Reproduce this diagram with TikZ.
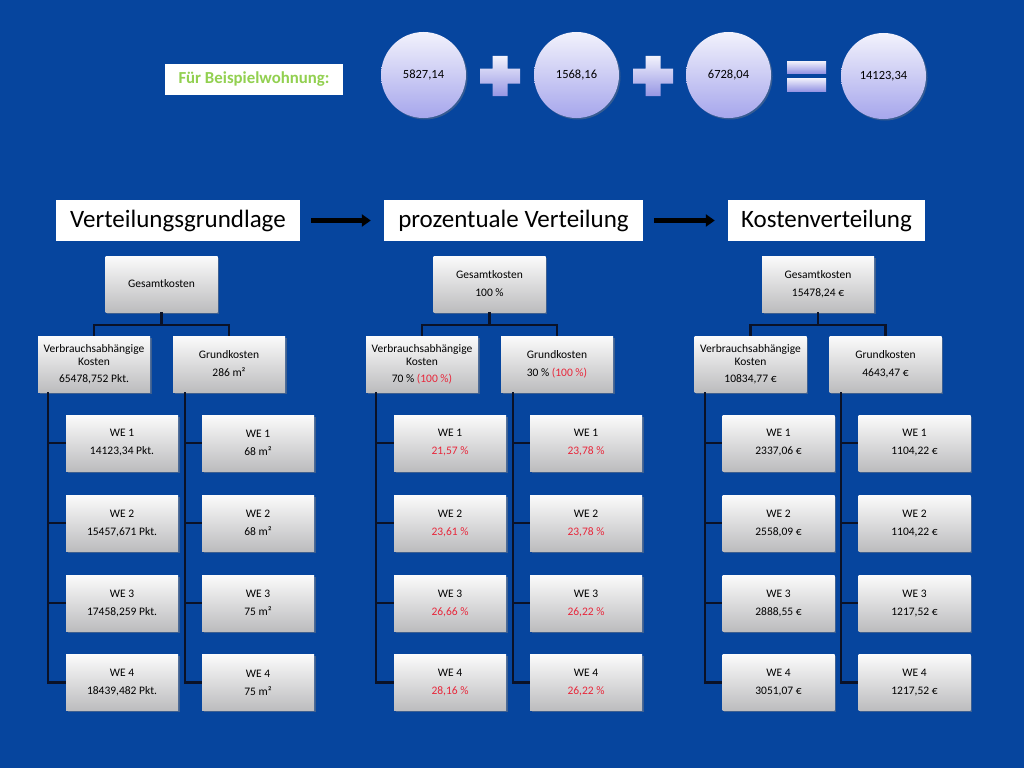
\documentclass[tikz,border=0pt]{standalone}
\usepackage{fontspec}
\setmainfont{Carlito}
\usetikzlibrary{shadows,arrows.meta,shapes.geometric}
\definecolor{bg}{RGB}{6,69,158}
\definecolor{lnk}{RGB}{10,18,40}
\definecolor{redt}{RGB}{232,38,58}
\definecolor{grn}{RGB}{146,208,80}
\definecolor{lavtop}{RGB}{242,242,252}
\definecolor{lavbot}{RGB}{166,166,236}
\definecolor{plusbot}{RGB}{150,150,228}
\definecolor{boxtop}{RGB}{251,251,251}
\definecolor{boxbot}{RGB}{188,188,190}
\begin{document}
\begin{tikzpicture}[x=1pt,y=-1pt,
  orgbox/.style={rectangle, minimum width=112pt, minimum height=56pt, inner sep=1pt,
    top color=boxtop, bottom color=boxbot, align=center,
    font=\fontsize{11.5}{13}\selectfont, text=black,
    drop shadow={shadow xshift=1.5pt, shadow yshift=-1.5pt, opacity=0.45}},
  hdr/.style={rectangle, fill=white, minimum height=41pt, inner sep=0pt,
    font=\fontsize{25}{28}\selectfont, text=black},
  circ/.style={ellipse, minimum width=85pt, minimum height=86pt, inner sep=0pt,
    top color=lavtop, bottom color=lavbot,
    font=\fontsize{12.5}{14}\selectfont, text=black,
    drop shadow={shadow xshift=1.5pt, shadow yshift=-1.5pt, opacity=0.4}},
  conn/.style={draw=lnk, line width=2.2pt},
  bigarrow/.style={draw=black, line width=5.5pt, -{Triangle[length=9pt,width=12pt]},
    shorten <=11pt, shorten >=13pt},
  symfill/.style={top color=lavtop, bottom color=plusbot}
]
% background
\fill[bg] (0,0) rectangle (1024,768);
\useasboundingbox (0,0) rectangle (1024,768);

% top row
\node[rectangle, fill=white, minimum width=178pt, minimum height=31pt, inner sep=0pt,
  font=\fontsize{16.8}{18}\selectfont\bfseries, text=grn] (fb) at (254,79.5) {Für Beispielwohnung:};
\node[circ] (c1) at (423.5,75) {5827,14};
\node[circ] (c2) at (576.5,75) {1568,16};
\node[circ] (c3) at (728.5,75) {6728,04};
\node[circ] (c4) at (883.5,76) {14123,34};
\foreach \px in {500,653}{
  \shade[symfill] (\px-7.5,56) -- (\px+7.5,56) -- (\px+7.5,68.5) -- (\px+20,68.5)
    -- (\px+20,83.5) -- (\px+7.5,83.5) -- (\px+7.5,96) -- (\px-7.5,96)
    -- (\px-7.5,83.5) -- (\px-20,83.5) -- (\px-20,68.5) -- (\px-7.5,68.5) -- cycle;
}
\shade[symfill] (787,61) rectangle (826,73);
\shade[symfill] (787,78) rectangle (826,91);

% headers
\node[hdr, minimum width=244pt] (h1) at (178,220.5) {Verteilungsgrundlage};
\node[hdr, minimum width=259pt] (h2) at (513.5,220.5) {prozentuale Verteilung};
\node[hdr, minimum width=197pt] (h3) at (826.5,220.5) {Kostenverteilung};
\draw[bigarrow] (h1.east) -- (h2.west);
\draw[bigarrow] (h2.east) -- (h3.west);

% tree 1 (c = 161.5)
\node[orgbox] (g1) at (161.5,284) {Gesamtkosten};
\node[orgbox] (v1) at (94,364) {Verbrauchsabhängige\\Kosten\\[4pt]65478,752 Pkt.};
\node[orgbox] (k1) at (229,364) {Grundkosten\\[5pt]286 m²};
\coordinate (j1) at (161.5,325);
\node[orgbox] (v1a) at (122,443) {WE 1\\[5pt]14123,34 Pkt.};
\node[orgbox] (v1b) at (122,523) {WE 2\\[5pt]15457,671 Pkt.};
\node[orgbox] (v1c) at (122,603) {WE 3\\[5pt]17458,259 Pkt.};
\node[orgbox] (v1d) at (122,682.5) {WE 4\\[5pt]18439,482 Pkt.};
\node[orgbox] (k1a) at (258,443) {WE 1\\[5pt]68 m²};
\node[orgbox] (k1b) at (258,523) {WE 2\\[5pt]68 m²};
\node[orgbox] (k1c) at (258,603) {WE 3\\[5pt]75 m²};
\node[orgbox] (k1d) at (258,682.5) {WE 4\\[5pt]75 m²};

% tree 2 (c = 489.5)
\node[orgbox] (g2) at (489.5,284) {Gesamtkosten\\[5pt]100 \%};
\node[orgbox] (v2) at (422,364) {Verbrauchsabhängige\\Kosten\\[4pt]70 \% \textcolor{redt}{(100 \%)}};
\node[orgbox] (k2) at (557,364) {Grundkosten\\[5pt]30 \% \textcolor{redt}{(100 \%)}};
\coordinate (j2) at (489.5,325);
\node[orgbox] (v2a) at (450,443) {WE 1\\[5pt]\textcolor{redt}{21,57 \%}};
\node[orgbox] (v2b) at (450,523) {WE 2\\[5pt]\textcolor{redt}{23,61 \%}};
\node[orgbox] (v2c) at (450,603) {WE 3\\[5pt]\textcolor{redt}{26,66 \%}};
\node[orgbox] (v2d) at (450,682.5) {WE 4\\[5pt]\textcolor{redt}{28,16 \%}};
\node[orgbox] (k2a) at (586,443) {WE 1\\[5pt]\textcolor{redt}{23,78 \%}};
\node[orgbox] (k2b) at (586,523) {WE 2\\[5pt]\textcolor{redt}{23,78 \%}};
\node[orgbox] (k2c) at (586,603) {WE 3\\[5pt]\textcolor{redt}{26,22 \%}};
\node[orgbox] (k2d) at (586,682.5) {WE 4\\[5pt]\textcolor{redt}{26,22 \%}};

% tree 3 (c = 818)
\node[orgbox] (g3) at (818,284) {Gesamtkosten\\[5pt]15478,24 €};
\node[orgbox] (v3) at (750.5,364) {Verbrauchsabhängige\\Kosten\\[4pt]10834,77 €};
\node[orgbox] (k3) at (885.5,364) {Grundkosten\\[5pt]4643,47 €};
\coordinate (j3) at (818,325);
\node[orgbox] (v3a) at (778.5,443) {WE 1\\[5pt]2337,06 €};
\node[orgbox] (v3b) at (778.5,523) {WE 2\\[5pt]2558,09 €};
\node[orgbox] (v3c) at (778.5,603) {WE 3\\[5pt]2888,55 €};
\node[orgbox] (v3d) at (778.5,682.5) {WE 4\\[5pt]3051,07 €};
\node[orgbox] (k3a) at (914.5,443) {WE 1\\[5pt]1104,22 €};
\node[orgbox] (k3b) at (914.5,523) {WE 2\\[5pt]1104,22 €};
\node[orgbox] (k3c) at (914.5,603) {WE 3\\[5pt]1217,52 €};
\node[orgbox] (k3d) at (914.5,682.5) {WE 4\\[5pt]1217,52 €};

% connectors
\foreach \t in {1,2,3}{
  \draw[conn] (g\t.south) -- (j\t) -| (v\t.north);
  \draw[conn] (j\t) -| (k\t.north);
  \foreach \s in {a,b,c,d}{
    \draw[conn] ([xshift=10.5pt]v\t.south west) |- (v\t\s.west);
    \draw[conn] ([xshift=12pt]k\t.south west) |- (k\t\s.west);
  }
}
\end{tikzpicture}
\end{document}
